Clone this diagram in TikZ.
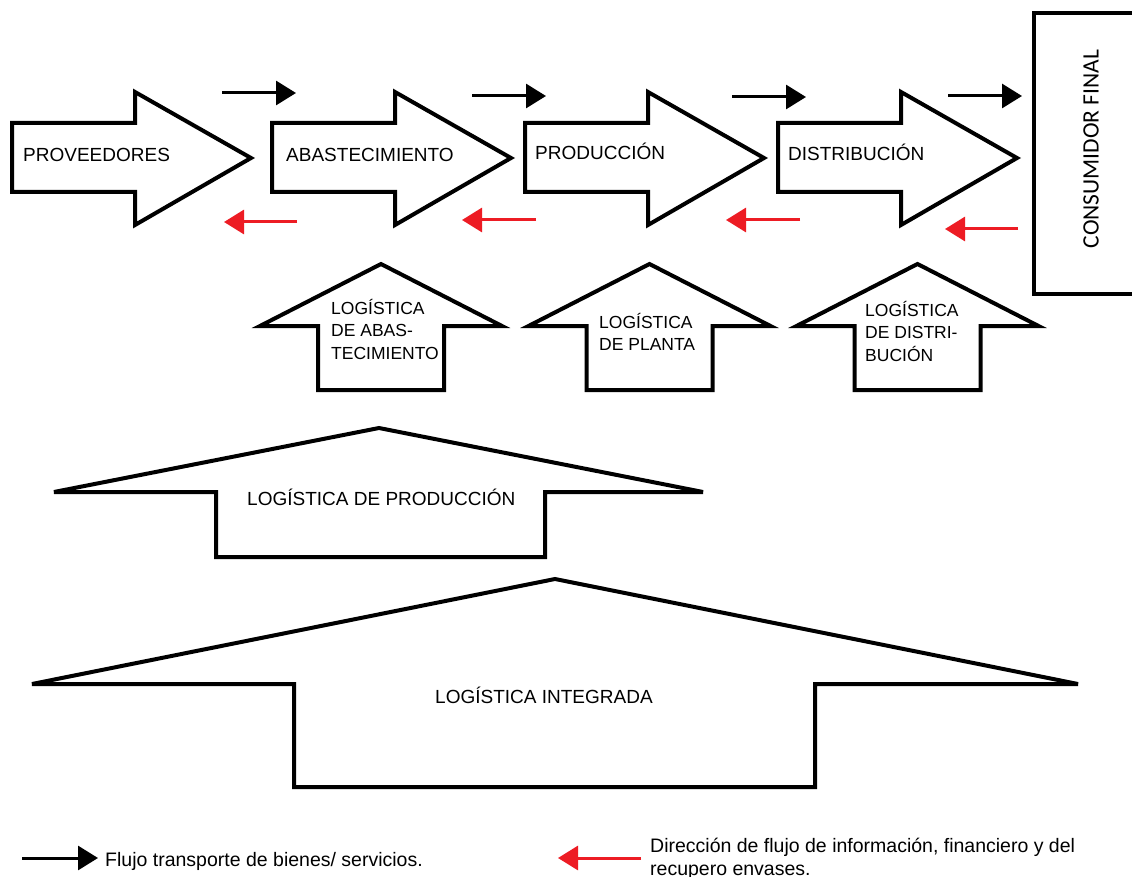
\documentclass[tikz,border=0pt]{standalone}
\usepackage{fontspec}
\setmainfont{Liberation Sans}
\newfontfamily\calib{Carlito}
\usetikzlibrary{arrows.meta}
\definecolor{flowred}{RGB}{237,28,36}
\begin{document}
\begin{tikzpicture}[x=1pt,y=-1pt,
  blk/.style={draw=black,line width=4pt,fill=white,line join=miter},
  lbl/.style={font=\fontsize{19}{23}\selectfont,anchor=base west,inner sep=0pt},
  sublbl/.style={font=\fontsize{17.5}{22.5}\selectfont,align=left,anchor=north west,inner sep=0pt},
  fwd/.style={draw=black,line width=3pt,-{Triangle[length=20pt,width=24pt]}},
  bwd/.style={draw=flowred,line width=3pt,-{Triangle[length=20pt,width=24pt]}},
  leg/.style={font=\fontsize{19.5}{25}\selectfont,anchor=base west,inner sep=0pt}
]
\useasboundingbox (0,0) rectangle (1132,877);
\fill[white] (0,0) rectangle (1132,877);

% right-pointing block arrows
\foreach \x in {12,272,525,778}{
  \draw[blk] (\x,123) -- ({\x+123},123) -- ({\x+123},92) -- ({\x+239},158)
     -- ({\x+123},225) -- ({\x+123},192) -- (\x,192) -- cycle;
}
\node[lbl] (prov) at (23,162) {PROVEEDORES};
\node[lbl] (abas) at (286,162) {ABASTECIMIENTO};
\node[lbl] (prod) at (535,160) {PRODUCCIÓN};
\node[lbl] (dist) at (788,161) {DISTRIBUCIÓN};

% consumidor final
\draw[blk] (1034,13) rectangle (1145,294);
\node[font=\calib\fontsize{23.5}{28}\selectfont,rotate=90,inner sep=0pt] (cons) at (1091,149) {CONSUMIDOR FINAL};

% small up arrows
\foreach \c in {381,649.5,917.5}{
  \draw[blk] ({\c-121},326) -- (\c,264) -- ({\c+121},326) -- ({\c+63},326)
     -- ({\c+63},390) -- ({\c-63},390) -- ({\c-63},326) -- cycle;
}
\node[sublbl] (labas) at (331,299) {LOGÍSTICA\\DE ABAS-\\TECIMIENTO};
\node[sublbl] (lplan) at (599,313) {LOGÍSTICA\\DE PLANTA};
\node[sublbl] (ldist) at (865,301) {LOGÍSTICA\\DE DISTRI-\\BUCIÓN};

% big up arrows
\draw[blk] (54,492) -- (379,428) -- (703,492) -- (545,492) -- (545,557)
   -- (216,557) -- (216,492) -- cycle;
\node[lbl] (lprod) at (247,505) {LOGÍSTICA DE PRODUCCIÓN};
\draw[blk] (32,684) -- (555,579) -- (1078,684) -- (815,684) -- (815,787)
   -- (294,787) -- (294,684) -- cycle;
\node[lbl] (linteg) at (435,703) {LOGÍSTICA INTEGRADA};

% flow arrows
\coordinate (b1s) at (222,93);  \coordinate (b1e) at (296,93);
\coordinate (b2s) at (472,96);  \coordinate (b2e) at (546,96);
\coordinate (b3s) at (732,97);  \coordinate (b3e) at (806,97);
\coordinate (b4s) at (948,96);  \coordinate (b4e) at (1022,96);
\draw[fwd] (b1s) -- (b1e);
\draw[fwd] (b2s) -- (b2e);
\draw[fwd] (b3s) -- (b3e);
\draw[fwd] (b4s) -- (b4e);
\coordinate (r1s) at (297,222);  \coordinate (r1e) at (224,222);
\coordinate (r2s) at (536,220);  \coordinate (r2e) at (462,220);
\coordinate (r3s) at (800,220);  \coordinate (r3e) at (726,220);
\coordinate (r4s) at (1018,229); \coordinate (r4e) at (945,229);
\draw[bwd] (r1s) -- (r1e);
\draw[bwd] (r2s) -- (r2e);
\draw[bwd] (r3s) -- (r3e);
\draw[bwd] (r4s) -- (r4e);

% legend
\coordinate (lbs) at (22,858); \coordinate (lbe) at (98,858);
\draw[fwd] (lbs) -- (lbe);
\node[leg] (legb) at (105,866) {Flujo transporte de bienes/ servicios.};
\coordinate (lrs) at (641,858); \coordinate (lre) at (558,858);
\draw[bwd] (lrs) -- (lre);
\node[leg] (legr1) at (650,852) {Dirección de flujo de información, financiero y del};
\node[leg] (legr2) at (650,875) {recupero envases.};
\end{tikzpicture}
\end{document}
